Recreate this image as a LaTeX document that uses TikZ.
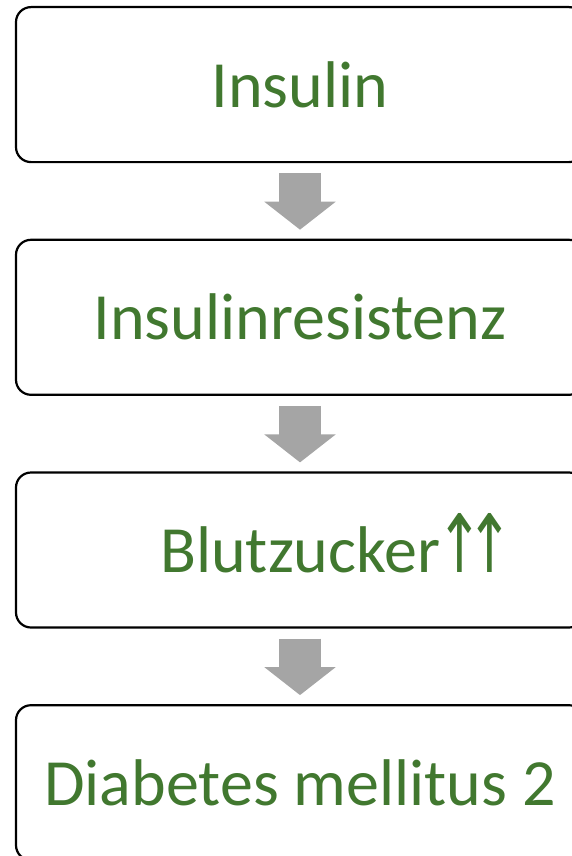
\documentclass[tikz,border=0pt]{standalone}
\usepackage{fontspec}
\setmainfont{Carlito}
\newfontfamily\arrowfont{DejaVu Sans}
\usepackage{xcolor}
\usepackage{graphicx}
\usetikzlibrary{arrows.meta, positioning}
\definecolor{textgreen}{HTML}{41782F}
\definecolor{flowgray}{HTML}{A5A5A5}
\newcommand{\riseup}{\smash{\scalebox{0.9}[1.3]{\arrowfont\fontsize{62}{70}\selectfont ↑}}}

\begin{document}
\begin{tikzpicture}[
  x=1pt, y=-1pt,
  font=\fontsize{66}{70}\selectfont,
  stagebox/.style={draw=black, line width=2.2pt, rounded corners=15pt, fill=white,
                   minimum width=568pt, minimum height=155pt, inner sep=0pt,
                   text=textgreen, anchor=north},
  flow/.style={draw=flowgray, line width=42pt,
               -{Triangle[length=28pt, width=70pt]},
               shorten <=10pt, shorten >=9pt},
  node distance=75.5pt,
]
\useasboundingbox (0,0) rectangle (572,856);
\clip (0,0) rectangle (572,856);

% Box 1
\node[stagebox] (S1) at (300,6) {Insulin};

% Box 2
\node[stagebox, below=of S1] (S2) {Insulinresistenz};

% Box 3
\node[stagebox, below=of S2] (S3)
  {\hspace*{64pt}Blutzucker\kern-4pt\riseup\kern-16pt\riseup\kern-10pt};

% Box 4
\node[stagebox, below=of S3] (S4) {Diabetes mellitus 2};

% Arrows
\foreach \a/\b in {S1/S2, S2/S3, S3/S4} { \draw[flow] (\a.south) -- (\b.north); }

\end{tikzpicture}
\end{document}
